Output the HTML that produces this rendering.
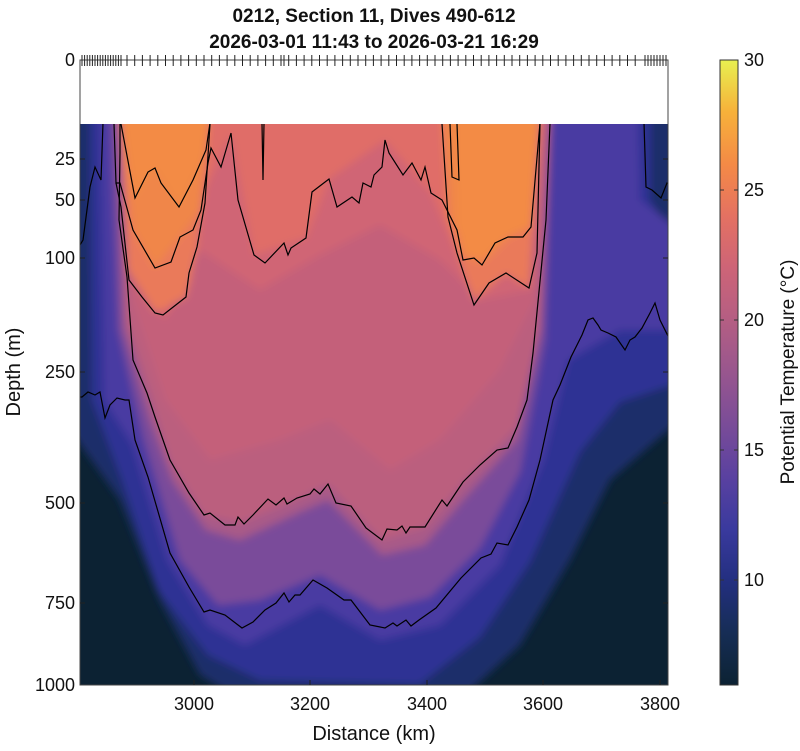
<!DOCTYPE html>
<html><head><meta charset="utf-8"><style>
html,body{margin:0;padding:0;background:#fff;}
svg text{font-family:"Liberation Sans",Arial,sans-serif;}
</style></head><body>
<svg id="s" width="800" height="746" viewBox="0 0 800 746" xmlns="http://www.w3.org/2000/svg">
<defs>
<clipPath id="pc"><rect x="80" y="124" width="588" height="561"/></clipPath>
<filter id="bl" x="-5%" y="-5%" width="110%" height="110%"><feGaussianBlur stdDeviation="4"/></filter>
<linearGradient id="cb" x1="0" y1="1" x2="0" y2="0">
<stop offset="0" stop-color="#0c2233"/>
<stop offset="0.083" stop-color="#162d55"/>
<stop offset="0.167" stop-color="#232f80"/>
<stop offset="0.25" stop-color="#3a3a9e"/>
<stop offset="0.333" stop-color="#5a41a0"/>
<stop offset="0.417" stop-color="#7a4c98"/>
<stop offset="0.5" stop-color="#98568e"/>
<stop offset="0.583" stop-color="#b45e83"/>
<stop offset="0.667" stop-color="#cd6477"/>
<stop offset="0.75" stop-color="#e47162"/>
<stop offset="0.833" stop-color="#f48a46"/>
<stop offset="0.917" stop-color="#f7b13a"/>
<stop offset="1" stop-color="#e8f050"/>
</linearGradient>
</defs>
<rect x="80" y="60" width="588" height="64" fill="#fff"/>
<g clip-path="url(#pc)">
<rect x="80" y="124" width="588" height="561" fill="#0c2233"/>
<g filter="url(#bl)">
<polygon fill="#1a2f6a" points="70,110 70,430 120,500 160,600 200,675 240,700 460,700 520,645 570,560 610,480 680,420 680,110"/>
<polygon fill="#2f3394" points="90,110 92,400 122,480 158,590 208,655 260,680 420,684 480,637 530,562 580,452 620,402 680,382 680,250 650,200 650,110"/>
<polygon fill="#4a3aa2" points="100,110 104,400 133,445 168,560 208,625 245,645 320,605 380,640 440,625 500,565 543,460 568,360 620,330 680,330 680,230 640,200 638,110"/>
<polygon fill="#7a4c9a" points="110,110 118,330 144,440 180,560 218,605 260,600 320,575 380,610 430,597 480,548 520,472 545,340 552,110"/>
<polygon fill="#a85a88" points="118,110 124,330 150,420 172,480 206,530 240,540 300,512 328,500 382,555 425,545 463,500 517,440 540,330 550,110"/>
<polygon fill="#bb5f7e" points="120,110 126,320 152,400 170,460 204,515 240,523 300,498 328,484 382,540 425,527 463,482 517,427 540,330 550,110"/>
<polygon fill="#c4617a" points="125,110 132,300 165,400 210,460 280,440 330,420 390,470 440,440 500,370 535,300 545,110"/>
<polygon fill="#d06575" points="125,110 135,280 165,320 200,250 260,290 320,255 380,225 440,260 480,300 530,290 545,110"/>
<polygon fill="#e06d68" points="118,110 130,232 163,315 190,285 205,190 231,133 254,255 306,238 329,179 385,140 431,193 457,253 474,300 506,273 529,288 540,110"/>
<polygon fill="#ea7a5a" points="120,110 128,270 155,312 186,297 197,247 210,110"/>
<polygon fill="#ea7a5a" points="442,110 448,217 457,253 474,300 506,273 529,288 540,110"/>
<polygon fill="#f08648" points="120,110 133,230 155,268 180,237 201,210 210,110"/>
<polygon fill="#f08648" points="442,110 448,217 474,260 508,237 531,227 540,110"/>
<polygon fill="#f38b44" points="121,110 135,198 155,168 179,207 206,150 210,110"/>
<polygon fill="#f38b44" points="455,110 457,230 463,255 482,262 508,237 531,227 540,110"/>
</g>
<g fill="none" stroke="#000" stroke-width="1.2">
<polyline points="121,124 135,198 148,172 155,168 161,183 179,207 193,180 206,150 210,123"/>
<polyline points="114,124 116,183 120,183 133,230 155,268 171,262 180,237 193,230 201,210 208,163 211,148 221,167 231,133 238,200 254,255 265,263 284,243 288,255 291,248 306,238 312,192 329,179 337,207 352,197 359,203 363,183 371,187 374,175 382,167 385,140 389,153 403,175 412,163 421,180 425,167 431,193 442,200 457,230 463,260 474,258 482,265 495,243 508,237 523,237 531,227 540,123"/>
<polyline points="116,183 121,207 129,280 142,297 155,313 163,315 186,297 189,273 197,247 205,203 210,124"/>
<polyline points="442,124 448,217 457,253 474,305 489,283 506,273 529,288 537,253 540,124"/>
<polyline points="262,124 263,180 264,124"/>
<polyline points="450,124 452,177 459,180 457,124"/>
<polyline points="120,123 120,153 119,220 127,277 133,360 147,393 155,417 170,460 189,493 204,515 210,513 225,525 235,525 238,517 244,524 253,515 268,499 276,505 284,498 287,504 297,498 310,494 314,489 320,494 328,484 336,503 351,506 366,528 382,540 387,529 397,530 402,526 406,533 410,527 425,527 442,500 447,506 463,482 480,465 497,450 508,448 517,427 527,400 533,353 546,220 550,123"/>
<polyline points="80,397 82,397 88,392 95,395 100,392 105,418 110,405 117,398 125,400 129,400 135,440 148,477 170,553 189,587 204,612 210,610 225,615 242,628 253,622 265,610 276,603 284,593 289,602 295,595 300,595 313,580 327,588 344,600 351,600 370,625 385,628 393,623 397,626 406,620 411,626 419,620 436,608 461,578 481,558 491,554 497,543 508,545 517,527 529,500 540,460 553,400 560,385 571,357 582,335 588,320 593,318 598,325 601,330 608,333 616,337 625,350 630,340 635,337 642,328 650,313 655,303 660,320 670,340"/>
<polyline points="103,123 101,180 95,167 90,187 83,240 80,245"/>
<polyline points="644,123 646,187 652,190 661,198 667,183 670,185"/>
</g>
</g>
<rect x="80" y="60" width="588" height="625" fill="none" stroke="#444" stroke-width="1"/>
<g id="tk" stroke="#222" stroke-width="1"></g>
<g font-size="18" fill="#111" text-anchor="end">
<text x="75" y="66">0</text><text x="75" y="165">25</text><text x="75" y="206">50</text>
<text x="75" y="264">100</text><text x="75" y="378">250</text><text x="75" y="509">500</text>
<text x="75" y="609">750</text><text x="75" y="691">1000</text>
</g>
<g font-size="18" fill="#111" text-anchor="middle">
<text x="194" y="710">3000</text><text x="310" y="710">3200</text><text x="427" y="710">3400</text>
<text x="543" y="710">3600</text><text x="660" y="710">3800</text>
<text x="374" y="740" font-size="20">Distance (km)</text>
<text x="374" y="22" font-size="19" font-weight="bold">0212, Section 11, Dives 490-612</text>
<text x="374" y="48" font-size="19" font-weight="bold">2026-03-01 11:43 to 2026-03-21 16:29</text>
</g>
<text transform="translate(20,372) rotate(-90)" font-size="20" text-anchor="middle" fill="#111">Depth (m)</text>
<rect x="720" y="60" width="18" height="625" fill="url(#cb)" stroke="#333" stroke-width="1"/>
<g stroke="#333" stroke-width="1">
<line x1="720" y1="190" x2="724" y2="190"/><line x1="734" y1="190" x2="738" y2="190"/>
<line x1="720" y1="320" x2="724" y2="320"/><line x1="734" y1="320" x2="738" y2="320"/>
<line x1="720" y1="450" x2="724" y2="450"/><line x1="734" y1="450" x2="738" y2="450"/>
<line x1="720" y1="580" x2="724" y2="580"/><line x1="734" y1="580" x2="738" y2="580"/>
</g>
<g font-size="18" fill="#111">
<text x="744" y="66">30</text><text x="744" y="196">25</text><text x="744" y="326">20</text>
<text x="744" y="456">15</text><text x="744" y="586">10</text>
</g>
<text transform="translate(794,372) rotate(-90)" font-size="19" text-anchor="middle" fill="#111">Potential Temperature (°C)</text>
</svg>
<script>
var g=document.getElementById('tk'),h='';
var xs=[];for(var x=82;x<=123;x+=2.6)xs.push(x);
for(var x=127;x<=640;x+=7.7)xs.push(x);
xs.push(284);for(var x=645;x<=666;x+=3)xs.push(x);
xs.forEach(function(x){h+='<line x1="'+x+'" y1="55" x2="'+x+'" y2="66"/>';});
[159,200,258,372,503,603].forEach(function(y){h+='<line x1="80" y1="'+y+'" x2="85" y2="'+y+'"/><line x1="663" y1="'+y+'" x2="668" y2="'+y+'"/>';});
[194,310,427,543,660].forEach(function(x){h+='<line x1="'+x+'" y1="685" x2="'+x+'" y2="680"/>';});
g.innerHTML=h;
</script>
</body></html>
